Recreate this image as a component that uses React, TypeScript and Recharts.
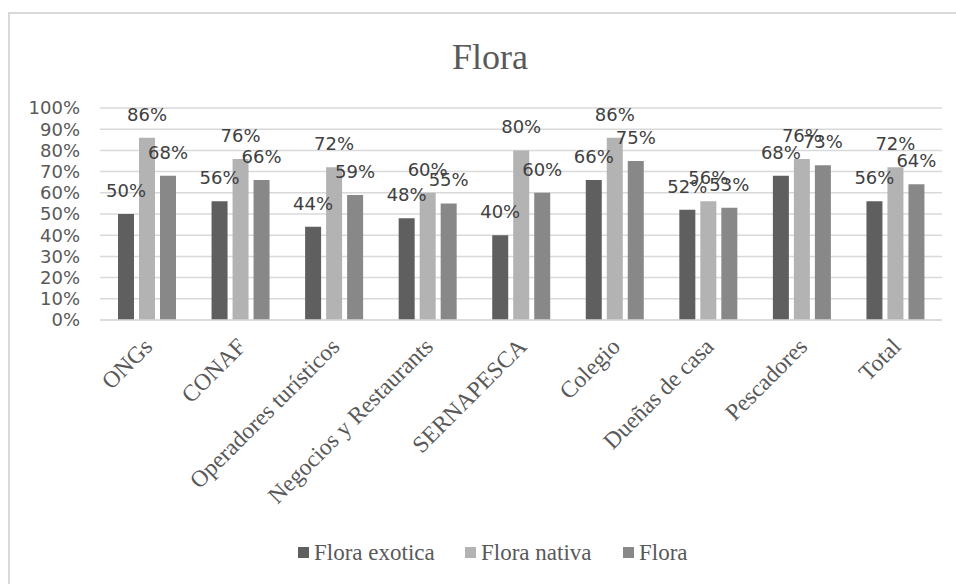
import { BarChart, Bar, XAxis, YAxis, CartesianGrid, LabelList } from "recharts";

const categories = [
  "ONGs",
  "CONAF",
  "Operadores turísticos",
  "Negocios y Restaurants",
  "SERNAPESCA",
  "Colegio",
  "Dueñas de casa",
  "Pescadores",
  "Total",
];
const floraExotica = [50, 56, 44, 48, 40, 66, 52, 68, 56];
const floraNativa = [86, 76, 72, 60, 80, 86, 56, 76, 72];
const flora = [68, 66, 59, 55, 60, 75, 53, 73, 64];
const yTicks = [0, 10, 20, 30, 40, 50, 60, 70, 80, 90, 100];

const series = [
  { key: "exotica", name: "Flora exotica", color: "#5f5f5f" },
  { key: "nativa", name: "Flora nativa", color: "#b3b3b3" },
  { key: "flora", name: "Flora", color: "#888888" },
];
// left edge of each legend entry (marker)
const legendX = [298, 465, 623];

const data = categories.map((name, i) => ({
  name,
  exotica: floraExotica[i],
  nativa: floraNativa[i],
  flora: flora[i],
}));

const SERIF = "'Liberation Serif', serif";
const SANS = "'DejaVu Sans', sans-serif";

function CategoryTick({ x, y, payload }: any) {
  return (
    <g transform={`translate(${x + 7},${y + 28})`}>
      <text
        textAnchor="end"
        transform="rotate(-45)"
        fontFamily={SERIF}
        fontSize={23.5}
        fill="#595959"
      >
        {payload.value}
      </text>
    </g>
  );
}

export default function App() {
  return (
    <div
      style={{
        position: "absolute",
        left: 0,
        top: 0,
        width: 956,
        height: 584,
        overflow: "hidden",
        background: "#fff",
      }}
    >
      <div
        style={{
          position: "absolute",
          left: 8,
          top: 12,
          width: 1100,
          height: 800,
          border: "2px solid #d9d9d9",
        }}
      />
      <div
        style={{
          position: "absolute",
          left: 0,
          width: 980,
          top: 36,
          textAlign: "center",
          fontFamily: SERIF,
          fontSize: 36,
          color: "#595959",
        }}
      >
        Flora
      </div>
      <div style={{ position: "absolute", left: 0, top: 0 }}>
        <BarChart
          width={956}
          height={584}
          data={data}
          margin={{ top: 108, right: 14, left: 10, bottom: 0 }}
          barSize={16}
          barGap={5}
        >
          <CartesianGrid vertical={false} stroke="#d9d9d9" strokeWidth={1.5} />
          <XAxis
            dataKey="name"
            height={264}
            interval={0}
            tickLine={false}
            tickSize={0}
            tickMargin={0}
            axisLine={{ stroke: "#d9d9d9", strokeWidth: 1.5 }}
            tick={<CategoryTick />}
          />
          <YAxis
            width={90}
            domain={[0, 100]}
            ticks={yTicks}
            interval={0}
            axisLine={false}
            tickLine={false}
            tickSize={0}
            tickMargin={20}
            tickFormatter={(v) => `${v}%`}
            tick={{ fontFamily: SANS, fontSize: 18, fill: "#595959" }}
          />
          {series.map((s) => (
            <Bar
              key={s.key}
              dataKey={s.key}
              name={s.name}
              fill={s.color}
              isAnimationActive={false}
            >
              <LabelList
                dataKey={s.key}
                position="top"
                offset={17}
                formatter={(v: any) => `${v}%`}
                style={{ fontFamily: SANS, fontSize: 18, fill: "#404040" }}
              />
            </Bar>
          ))}
        </BarChart>
      </div>
      <svg
        width={956}
        height={50}
        style={{ position: "absolute", left: 0, top: 530 }}
      >
        {series.map((s, i) => (
          <g key={s.key}>
            <rect x={legendX[i]} y={17} width={11} height={11} fill={s.color} />
            <text
              x={legendX[i] + 16}
              y={30}
              fontFamily={SERIF}
              fontSize={23}
              fill="#595959"
            >
              {s.name}
            </text>
          </g>
        ))}
      </svg>
    </div>
  );
}
